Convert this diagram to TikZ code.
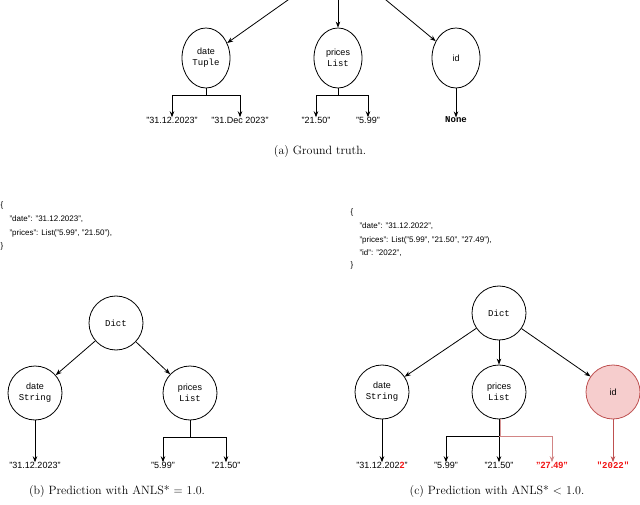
\documentclass[tikz,border=0pt]{standalone}
\usepackage{fontspec}
\setsansfont{Liberation Sans}
\setmonofont{Liberation Mono}
\usetikzlibrary{arrows.meta,shapes.geometric}
\definecolor{wrong}{RGB}{190,80,80}
\definecolor{wrongfill}{RGB}{246,205,205}
\definecolor{wrongtxt}{RGB}{240,20,20}
\tikzset{
  key/.style={draw, thick, ellipse, minimum width=48pt, minimum height=60pt, align=center, font=\sffamily\small, inner sep=0pt},
  kc/.style={draw, thick, circle, minimum size=54pt, align=center, font=\sffamily\small, inner sep=0pt},
  val/.style={font=\sffamily\small},
  arr/.style={-{Stealth[length=6pt]}, thick},
  captxt/.style={font=\large},
  json/.style={font=\sffamily\footnotesize, anchor=west}
}
\begin{document}
\begin{tikzpicture}[x=1pt,y=-1pt]
  \useasboundingbox (0,0) rectangle (640,505);
  % (a) ground truth
  \coordinate (ta) at (295,-5);
  \coordinate (tb) at (338,-5);
  \coordinate (tc) at (380,-5);
  \node[key] (date) at (206,58) {date\\\texttt{Tuple}};
  \node[key] (prices) at (338,58) {prices\\\texttt{List}};
  \node[key] (id) at (456,58) {id};
  \draw[arr] (ta) -- (date);
  \draw[arr] (tb) -- (prices);
  \draw[arr] (tc) -- (id);
  \node[val] (d1) at (172,120) {"31.12.2023"};
  \node[val] (d2) at (240,120) {"31.Dec 2023"};
  \node[val] (p1) at (316,120) {"21.50"};
  \node[val] (p2) at (368,120) {"5.99"};
  \node[font=\ttfamily\bfseries\small] (n1) at (456,120) {None};
  \draw[thick] (date.south) -- ++(0,7) coordinate (db);
  \draw[arr] (db) -| ([yshift=-4pt]d1.north);
  \draw[arr] (db) -| ([yshift=-4pt]d2.north);
  \draw[thick] (prices.south) -- ++(0,7) coordinate (pb);
  \draw[arr] (pb) -| ([yshift=-4pt]p1.north);
  \draw[arr] (pb) -| ([yshift=-4pt]p2.north);
  \draw[arr] (id) -- ([yshift=-4pt]n1.north);
  \node[captxt] (capa) at (320,152) {(a) Ground truth.};
  % (b) prediction 1
  \node[json] (jb1) at (-3,205) {\{};
  \node[json] (jb2) at (6,219) {"date": "31.12.2023",};
  \node[json] (jb3) at (6,233) {"prices": List("5.99", "21.50"),};
  \node[json] (jb4) at (-3,246) {\}};
  \node[kc, font=\ttfamily\small] (dictb) at (116,323) {Dict};
  \node[kc] (dateb) at (35,393) {date\\\texttt{String}};
  \node[kc] (pricesb) at (190,393) {prices\\\texttt{List}};
  \draw[arr] (dictb) -- (dateb);
  \draw[arr] (dictb) -- (pricesb);
  \node[val] (vb1) at (35,465) {"31.12.2023"};
  \node[val] (vb2) at (163,465) {"5.99"};
  \node[val] (vb3) at (226,465) {"21.50"};
  \draw[arr] (dateb) -- ([yshift=-4pt]vb1.north);
  \draw[thick] (pricesb.south) -- ++(0,17) coordinate (pbb);
  \draw[arr] (pbb) -| ([yshift=-4pt]vb2.north);
  \draw[arr] (pbb) -| ([yshift=-4pt]vb3.north);
  \node[captxt] (capb) at (117,492) {(b) Prediction with ANLS* = 1.0.};
  % (c) prediction 2
  \node[json] (jc1) at (347,212) {\{};
  \node[json] (jc2) at (356,226) {"date": "31.12.2022",};
  \node[json] (jc3) at (356,240) {"prices": List("5.99", "21.50", "27.49"),};
  \node[json] (jc4) at (356,253) {"id": "2022",};
  \node[json] (jc5) at (347,265) {\}};
  \node[kc, font=\ttfamily\small] (dictc) at (499,313) {Dict};
  \node[kc] (datec) at (382,392) {date\\\texttt{String}};
  \node[kc] (pricesc) at (499,392) {prices\\\texttt{List}};
  \node[kc, draw=wrong, fill=wrongfill] (idc) at (613,392) {id};
  \draw[arr] (dictc) -- (datec);
  \draw[arr] (dictc) -- (pricesc);
  \draw[arr] (dictc) -- (idc);
  \node[val] (vc1) at (382,465) {"31.12.202{\color{wrongtxt}\bfseries 2}"};
  \node[val] (vc2) at (446,465) {"5.99"};
  \node[val] (vc3) at (499,465) {"21.50"};
  \node[val, text=wrongtxt, font=\sffamily\bfseries\small] (vc4) at (552,465) {"27.49"};
  \node[font=\ttfamily\bfseries\small, text=wrongtxt] (vc5) at (613,465) {"2022"};
  \draw[arr] (datec) -- ([yshift=-4pt]vc1.north);
  \draw[thick] (pricesc.south) -- ++(0,17) coordinate (pcb);
  \draw[thick, wrong!60] ([xshift=1pt]pricesc.south) -- ([xshift=1pt]pcb);
  \draw[arr] (pcb) -| ([yshift=-4pt]vc2.north);
  \draw[arr] (pcb) -- ([yshift=-4pt]vc3.north);
  \draw[arr, wrong!70] (pcb) -| ([yshift=-4pt]vc4.north);
  \draw[arr, wrong] (idc) -- ([yshift=-4pt]vc5.north);
  \node[captxt] (capc) at (497,492) {(c) Prediction with ANLS* $<$ 1.0.};
\end{tikzpicture}
\end{document}
